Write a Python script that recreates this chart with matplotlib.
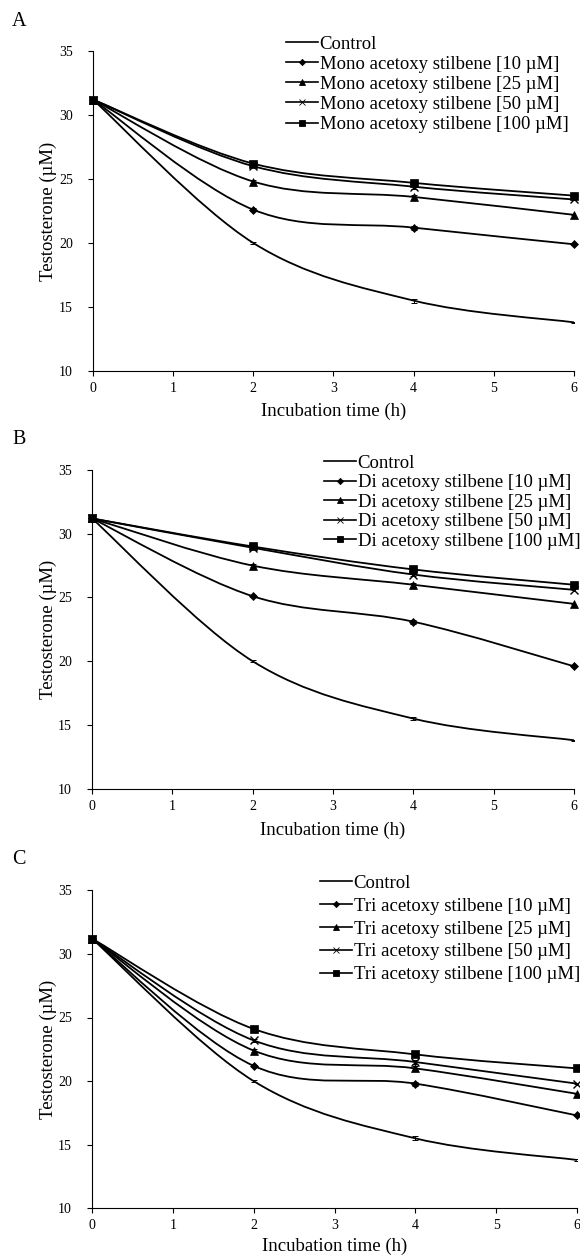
import matplotlib
matplotlib.use("Agg")
import matplotlib.pyplot as plt
from matplotlib.path import Path
from matplotlib.patches import PathPatch
from matplotlib.lines import Line2D

plt.rcParams['font.family'] = ['Liberation Serif', 'DejaVu Serif']

# ---------------- data ----------------
time_h = [0, 2, 4, 6]
x_ticks = [0, 1, 2, 3, 4, 5, 6]
y_ticks = [10, 15, 20, 25, 30, 35]
concentrations = ["10 µM", "25 µM", "50 µM", "100 µM"]
panel_letters = ["A", "B", "C"]
compound_names = ["Mono acetoxy stilbene", "Di acetoxy stilbene", "Tri acetoxy stilbene"]

control = [31.2, 20.0, 15.5, 13.8]
control_err = [0.0, 0.1, 0.15, 0.05]

mono_10 = [31.2, 22.6, 21.2, 19.9]
mono_25 = [31.2, 24.8, 23.6, 22.2]
mono_50 = [31.2, 26.0, 24.4, 23.4]
mono_100 = [31.2, 26.2, 24.7, 23.7]

di_10 = [31.2, 25.1, 23.1, 19.6]
di_25 = [31.2, 27.5, 26.0, 24.5]
di_50 = [31.2, 28.9, 26.8, 25.6]
di_100 = [31.2, 29.0, 27.2, 26.0]

tri_10 = [31.2, 21.2, 19.8, 17.3]
tri_25 = [31.2, 22.4, 21.0, 19.0]
tri_50 = [31.2, 23.2, 21.5, 19.8]
tri_100 = [31.2, 24.1, 22.1, 21.0]

treat_err = [0.0, 0.1, 0.15, 0.05]

# ---------------- styling ----------------
markers = ['D', '^', 'x', 's']
marker_sizes = [4.5, 5.5, 5.5, 5.5]

def smooth_path(xs, ys):
    """Excel-like smoothed line as cubic Bezier segments through the data points."""
    n = len(xs)
    verts = [(xs[0], ys[0])]
    codes = [Path.MOVETO]
    for i in range(n - 1):
        i0 = max(i - 1, 0)
        i3 = min(i + 2, n - 1)
        c1 = (xs[i] + (xs[i + 1] - xs[i0]) / 6.0, ys[i] + (ys[i + 1] - ys[i0]) / 6.0)
        c2 = (xs[i + 1] - (xs[i3] - xs[i]) / 6.0, ys[i + 1] - (ys[i3] - ys[i]) / 6.0)
        verts += [c1, c2, (xs[i + 1], ys[i + 1])]
        codes += [Path.CURVE4] * 3
    return Path(verts, codes)

W, H = 580, 1257
fig = plt.figure(figsize=(W / 100, H / 100), dpi=100)

panels = [
    dict(series=[mono_10, mono_25, mono_50, mono_100], rect=(93, 51, 574, 371),
         leg=(286, 35.5, 0.16), letter_y=22, xlab_y=412),
    dict(series=[di_10, di_25, di_50, di_100], rect=(92, 470, 574, 788.7),
         leg=(324, 454.5, 0.13), letter_y=439, xlab_y=831),
    dict(series=[tri_10, tri_25, tri_50, tri_100], rect=(92, 890.3, 577, 1208.3),
         leg=(320, 874.5, 0.31), letter_y=859, xlab_y=1247),
]

for p_i, p in enumerate(panels):
    x0, y0, x1, y1 = p['rect']
    ax = fig.add_axes([x0 / W, 1 - y1 / H, (x1 - x0) / W, (y1 - y0) / H])
    ax.set_xlim(0, 6)
    ax.set_ylim(10, 35)
    ax.set_xticks(x_ticks)
    ax.set_yticks(y_ticks)
    for s in ['top', 'right']:
        ax.spines[s].set_visible(False)
    for s in ['left', 'bottom']:
        ax.spines[s].set_linewidth(0.8)
    ax.tick_params(direction='out', length=3.5, width=0.8, labelsize=10)
    ax.tick_params(axis='x', pad=4.5)
    ax.tick_params(axis='y', pad=11)
    ax.set_xlabel("Incubation time (h)", fontsize=13.5)
    ax.set_ylabel("Testosterone (µM)", fontsize=13.5)
    ax.yaxis.set_label_coords((57 - x0) / (x1 - x0), 0.5)
    ax.xaxis.set_label_coords(0.5, -((p['xlab_y'] - 9) - y1) / (y1 - y0))

    all_series = [control] + p['series']
    handles = []
    labels = []
    for k, ys in enumerate(all_series):
        ax.add_patch(PathPatch(smooth_path(time_h, ys), facecolor='none',
                               edgecolor='black', lw=1.3, zorder=2))
        err = control_err if k == 0 else treat_err
        ax.errorbar(time_h, ys, yerr=err, fmt='none', ecolor='black',
                    elinewidth=0.7, capsize=2, capthick=0.7, zorder=3)
        if k == 0:
            handles.append(Line2D([], [], color='black', lw=1.2))
            labels.append("Control")
        else:
            m = markers[k - 1]
            ms = marker_sizes[k - 1]
            mew = 1.0 if m == 'x' else 0.5
            ax.plot(time_h, ys, linestyle='none', marker=m, ms=ms, color='black',
                    mew=mew, zorder=4, clip_on=False)
            handles.append(Line2D([], [], color='black', lw=1.2, marker=m,
                                  ms=ms * 0.7, mew=0.6))
            labels.append(f"{compound_names[p_i]} [{concentrations[k - 1]}]")

    lx, ly, lsp = p['leg']
    fig.legend(handles, labels, loc='upper left',
               bbox_to_anchor=(lx / W, 1 - ly / H), frameon=False,
               fontsize=13.5, handlelength=1.7, handletextpad=0.1,
               labelspacing=lsp, borderpad=0, borderaxespad=0)

    fig.text(12 / W, 1 - p['letter_y'] / H, panel_letters[p_i], fontsize=14.5,
             ha='left', va='center')

fig.savefig("out.png", dpi=100, facecolor='white')
